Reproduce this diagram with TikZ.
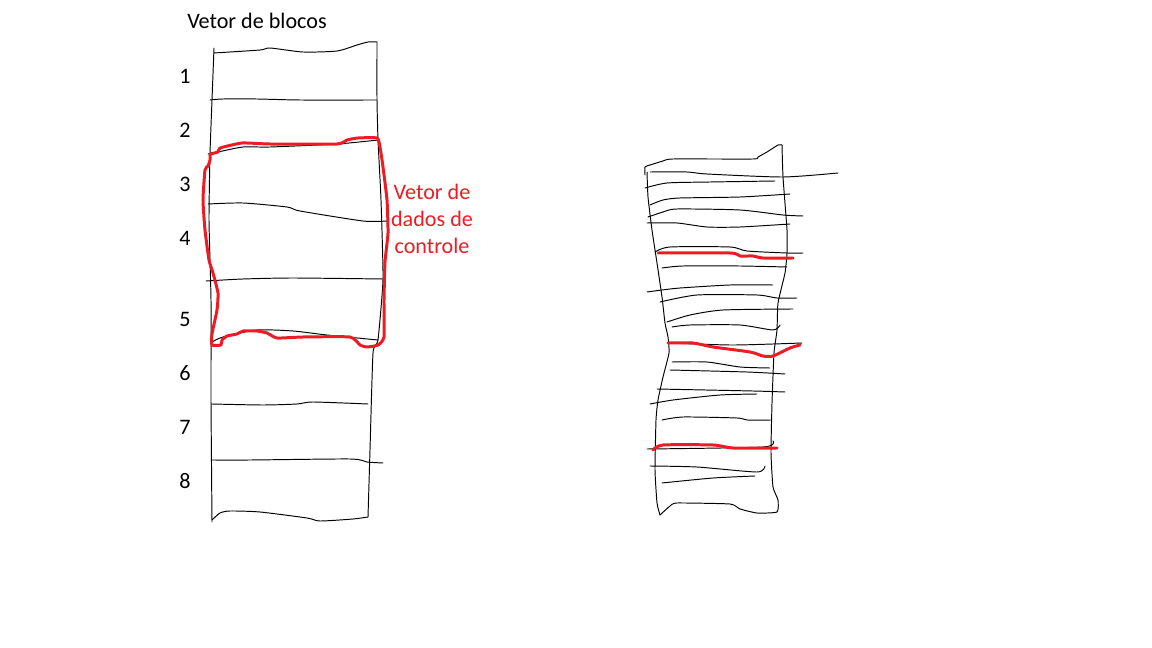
\documentclass[tikz,border=0pt]{standalone}
\usepackage{fontspec}
\setmainfont{Carlito}
\definecolor{paintred}{RGB}{237,28,36}

\begin{document}
\begin{tikzpicture}[
    x=0.02cm, y=-0.02cm,
    pen/.style={black, line width=0.55pt, line join=round, line cap=round},
    marker/.style={paintred, line width=1.7pt, line join=round, line cap=round},
    num/.style={font=\fontsize{12.6}{14}\selectfont, inner sep=0pt},
    title/.style={font=\fontsize{12.6}{14}\selectfont, inner sep=0pt},
    note/.style={
      font=\fontsize{12.6}{15.3}\selectfont, text=paintred,
      align=center, inner sep=0pt,
    },
]
\useasboundingbox (0,0) rectangle (1152,648);

% left column: the block vector
\node[title] (blk) at (257,21) {Vetor de blocos};

\draw[pen] plot[smooth, tension=.4] coordinates {(214,53) (260,50) (270,48) (303,52) (337,51) (357,45) (368,42) (377,42)};
\draw[pen] plot[smooth, tension=.3] coordinates {(214,48) (212,100) (210,154) (209,220) (211,300) (211,400) (212,522)};
\draw[pen] plot[smooth, tension=.3] coordinates {(377,42) (377,100) (378,140) (381,200) (383,279) (378,340) (373,353) (370,450) (368,517)};
\draw[pen] plot[smooth, tension=.4] coordinates {(210,100) (223,99) (257,99) (300,100) (377,100)};
\draw[pen] plot[smooth, tension=.4] coordinates {(208,154) (218,152) (243,147) (270,147) (337,144) (378,140)};
\draw[pen] plot[smooth, tension=.4] coordinates {(208,204) (243,203) (287,207) (300,211) (363,221) (387,221)};
\draw[pen] plot[smooth, tension=.4] coordinates {(206,281) (243,279) (293,278) (383,279)};
\draw[pen] plot[smooth, tension=.4] coordinates {(212,342) (223,337) (257,330) (293,331) (327,335) (378,340)};
\draw[pen] plot[smooth, tension=.4] coordinates {(212,404) (263,405) (297,404) (313,402) (368,404)};
\draw[pen] plot[smooth, tension=.4] coordinates {(212,460) (250,460) (350,459) (367,462) (383,463)};
\draw[pen] plot[smooth, tension=.4] coordinates {(212,520) (220,513) (230,511) (260,512) (307,518) (320,521) (353,519) (368,517)};

\node[num] (n1) at (185,76) {1};
\node[num] (n2) at (185,130) {2};
\node[num] (n3) at (185,184) {3};
\node[num] (n4) at (185,238) {4};
\node[num] (n5) at (185,319) {5};
\node[num] (n6) at (185,373) {6};
\node[num] (n7) at (185,427) {7};
\node[num] (n8) at (185,481) {8};

% control data region
\draw[marker] plot[smooth, tension=.3] coordinates {(210,154) (218,152) (220,148) (242,143) (270,144) (337,144) (347,140) (358,138) (377,138) (380,147) (383,167) (387,200) (388,233) (385,262) (384,300) (384,337) (378,345) (367,347) (360,345) (350,337) (303,337) (277,338) (267,333) (257,331) (243,331) (237,334) (227,336) (222,340) (221,345) (212,345) (212,334) (217,310) (218,293) (213,273) (209,260) (205,230) (203,200) (205,170) (208,166) (210,160) (210,154)};
\node[note] (ctl) at (432,219) {Vetor de\\dados de\\controle};

% right column
\draw[pen] plot[smooth, tension=.3] coordinates {(645,175) (645,167) (650,165) (663,161) (673,159) (753,159) (758,157) (767,152) (778,145) (782,145)};
\draw[pen] plot[smooth, tension=.3] coordinates {(782,145) (783,177) (787,230) (787,253) (785,273) (778,303) (777,330) (774,353) (772,403) (771,453) (773,487) (778,500) (777,512) (757,513) (740,509) (730,504) (677,503) (670,506) (660,515)};
\draw[pen] plot[smooth, tension=.3] coordinates {(647,172) (648,197) (652,230) (657,263) (662,297) (665,323) (668,337) (669,353) (663,377) (658,400) (656,420) (655,470) (657,503) (660,515)};

\draw[pen] plot[smooth, tension=.4] coordinates {(650,172) (687,172) (707,174) (783,177) (838,173)};
\draw[pen] plot[smooth, tension=.4] coordinates {(645,188) (667,183) (710,182) (775,181)};
\draw[pen] plot[smooth, tension=.4] coordinates {(650,205) (663,200) (680,198) (740,197) (790,194)};
\draw[pen] plot[smooth, tension=.4] coordinates {(648,217) (663,212) (677,209) (740,210) (783,215) (803,216)};
\draw[pen] plot[smooth, tension=.4] coordinates {(647,223) (677,223) (707,227) (740,227) (790,224)};
\draw[pen] plot[smooth, tension=.4] coordinates {(655,252) (670,247) (730,247) (747,251) (787,253) (803,253)};
\draw[pen] plot[smooth, tension=.4] coordinates {(662,268) (683,266) (740,266) (787,267)};
\draw[pen] plot[smooth, tension=.4] coordinates {(647,292) (662,290) (680,288) (730,285) (773,285)};
\draw[pen] plot[smooth, tension=.4] coordinates {(660,302) (697,295) (757,295) (777,298) (797,298)};
\draw[pen] plot[smooth, tension=.4] coordinates {(667,322) (690,315) (723,310) (793,309)};
\draw[pen] plot[smooth, tension=.4] coordinates {(672,327) (690,325) (740,325) (773,330) (780,325)};
\draw[pen] plot[smooth, tension=.4] coordinates {(667,343) (730,345) (773,344) (802,343)};
\draw[pen] plot[smooth, tension=.4] coordinates {(672,362) (707,362) (740,367) (770,368)};
\draw[pen] plot[smooth, tension=.4] coordinates {(670,370) (747,372) (785,374)};
\draw[pen] plot[smooth, tension=.4] coordinates {(657,389) (753,391) (785,392)};
\draw[pen] plot[smooth, tension=.4] coordinates {(650,404) (673,400) (720,395) (757,394)};
\draw[pen] plot[smooth, tension=.4] coordinates {(662,420) (683,417) (737,418) (747,420) (771,420)};
\draw[pen] plot[smooth, tension=.4] coordinates {(647,449) (763,447) (773,441)};
\draw[pen] plot[smooth, tension=.4] coordinates {(650,466) (697,467) (757,472) (765,466)};
\draw[pen] plot[smooth, tension=.4] coordinates {(662,483) (713,478) (755,476)};

% red marks on the right column
\draw[marker] plot[smooth, tension=.4] coordinates {(658,253) (730,253) (740,256) (753,256) (763,258) (793,258)};
\draw[marker] plot[smooth, tension=.4] coordinates {(668,343) (693,343) (713,347) (750,352) (763,356) (773,356) (790,348) (800,345)};
\draw[marker] plot[smooth, tension=.4] coordinates {(653,450) (663,445) (713,445) (733,448) (777,448)};

\end{tikzpicture}
\end{document}
